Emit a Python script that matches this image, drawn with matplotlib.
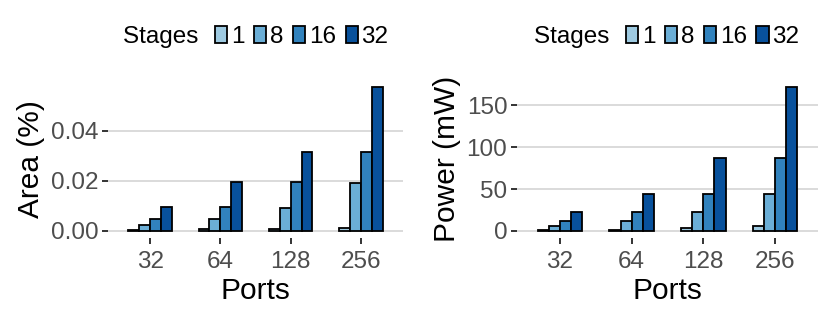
import numpy as np
import matplotlib
matplotlib.use('Agg')
import matplotlib.pyplot as plt
from matplotlib.patches import Rectangle

plt.rcParams['font.family'] = ['Liberation Sans', 'DejaVu Sans']

# data
ports = ['32', '64', '128', '256']
stages = ['1', '8', '16', '32']
colors = ['#9ecae1', '#6baed6', '#3182bd', '#08519c']

area = {
    '1': [0.0003, 0.0006, 0.0008, 0.0013],
    '8': [0.0023, 0.0047, 0.0092, 0.0190],
    '16': [0.0047, 0.0095, 0.0196, 0.0316],
    '32': [0.0097, 0.0197, 0.0316, 0.0575],
}
power = {
    '1': [0.7, 1.4, 2.8, 5.6],
    '8': [5.6, 11.5, 22.7, 44.0],
    '16': [11.5, 22.7, 44.0, 87.6],
    '32': [22.7, 44.0, 87.6, 171.8],
}

area_ticks = [0.0, 0.02, 0.04]
area_ticklabels = ['0.00', '0.02', '0.04']
power_ticks = [0, 50, 100, 150]

fig = plt.figure(figsize=(8.3, 3.12), dpi=100)
ax1 = fig.add_axes([108 / 830, 1 - 238 / 312, 295 / 830, 158 / 312])
ax2 = fig.add_axes([517 / 830, 1 - 238 / 312, 301 / 830, 158 / 312])

x = np.arange(len(ports))
bw = 0.155


def draw(ax, data, ylabel, ticks, ticklabels):
    for i, s in enumerate(stages):
        ax.bar(x + (i - 1.5) * bw, data[s], width=bw, color=colors[i],
               edgecolor='black', linewidth=1.3, zorder=3)
    top = max(max(v) for v in data.values()) * 1.05
    ax.set_ylim(-top * 0.05 / 1.05, top)
    ax.set_xlim(-0.6, len(ports) - 0.4)
    ax.set_xticks(x)
    ax.set_xticklabels(ports)
    ax.set_yticks(ticks)
    ax.set_yticklabels(ticklabels)
    ax.yaxis.grid(True, color='#dadada', linewidth=1.4, zorder=0)
    ax.set_axisbelow(True)
    for sp in ax.spines.values():
        sp.set_visible(False)
    ax.tick_params(axis='both', colors='#333333', labelcolor='#4d4d4d',
                   labelsize=17.5, length=4, width=1.4)
    ax.tick_params(axis='x', pad=5)
    ax.tick_params(axis='y', pad=3)
    ax.set_xlabel('Ports', fontsize=21.5, labelpad=3)
    ax.set_ylabel(ylabel, fontsize=21.5, labelpad=4)

    handles = [Rectangle((0, 0), 1, 1, facecolor=c, edgecolor='black',
                         linewidth=1.3) for c in colors]
    ax.legend(handles, stages, ncol=4, frameon=False, fontsize=17.5,
              handlelength=0.5, handleheight=0.7, handletextpad=0.15,
              columnspacing=0.4, loc='center left',
              bbox_to_anchor=(0.33, 1.27), borderaxespad=0)
    ax.text(0.33, 1.27, 'Stages ', transform=ax.transAxes, fontsize=17.5,
            ha='right', va='center')


draw(ax1, area, 'Area (%)', area_ticks, area_ticklabels)
draw(ax2, power, 'Power (mW)', power_ticks, [str(t) for t in power_ticks])

fig.savefig('out.png', dpi=100, facecolor='white')
